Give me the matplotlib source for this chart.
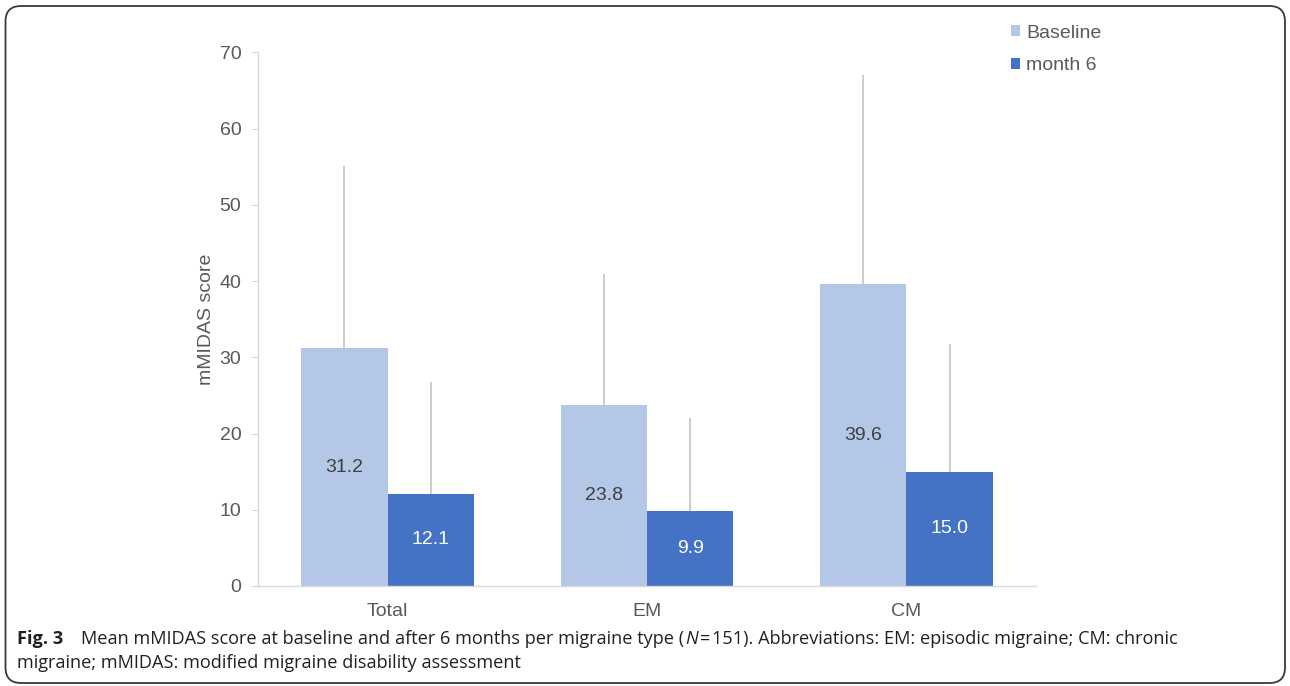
import numpy as np
import matplotlib
matplotlib.use("Agg")
import matplotlib.pyplot as plt
from matplotlib.patches import FancyBboxPatch

# data
categories = ["Total", "EM", "CM"]
baseline = [31.2, 23.8, 39.6]
month6 = [12.1, 9.9, 15.0]
baseline_sd = [23.9, 17.1, 27.4]
month6_sd = [14.7, 12.2, 16.7]
series_names = ["Baseline", "month 6"]

light_blue = "#B4C7E7"
dark_blue = "#4472C4"
grey_txt = "#595959"
axis_grey = "#D9D9D9"

W, H = 1290, 686
fig = plt.figure(figsize=(W / 100, H / 100), dpi=100)
plt.rcParams["font.family"] = ["Liberation Sans", "DejaVu Sans"]

# axes box in pixels: x 258..1036, y 52..586
ax = fig.add_axes([258 / W, 1 - 586 / H, (1036 - 258) / W, (586 - 52.4) / H])

x = np.arange(len(categories))
w = 1 / 3
ax.bar(x - w / 2, baseline, w, color=light_blue, label=series_names[0], zorder=2)
ax.bar(x + w / 2, month6, w, color=dark_blue, label=series_names[1], zorder=2)

# upper error lines only
ax.vlines(x - w / 2, baseline, np.array(baseline) + np.array(baseline_sd),
          color="#BFBFBF", lw=1.1, zorder=1)
ax.vlines(x + w / 2, month6, np.array(month6) + np.array(month6_sd),
          color="#BFBFBF", lw=1.1, zorder=1)

for i in range(len(categories)):
    ax.text(x[i] - w / 2, baseline[i] / 2, f"{baseline[i]:.1f}", ha="center", va="center",
            fontsize=14, color="#404040")
    ax.text(x[i] + w / 2, month6[i] / 2, f"{month6[i]:.1f}", ha="center", va="center",
            fontsize=14, color="white")

ax.set_xlim(-0.5, 2.5)
ax.set_ylim(0, 70)
ax.set_yticks(range(0, 71, 10))
ax.set_xticks(x)
ax.set_xticklabels(categories)
ax.tick_params(axis="y", length=5, color=axis_grey, labelsize=14, labelcolor=grey_txt, pad=7)
ax.tick_params(axis="x", length=0, labelsize=14, labelcolor=grey_txt, pad=12)
for s in ["top", "right"]:
    ax.spines[s].set_visible(False)
for s in ["left", "bottom"]:
    ax.spines[s].set_color(axis_grey)
    ax.spines[s].set_linewidth(1)
ax.set_ylabel("mMIDAS score", fontsize=14, color=grey_txt, labelpad=3)

leg = ax.legend(loc="upper left", bbox_to_anchor=(1001 / W, 1 - 15 / H),
                bbox_transform=fig.transFigure, frameon=False, fontsize=14,
                handlelength=0.5, handleheight=0.5, handletextpad=0.3,
                labelspacing=0.8, borderpad=0)
for t in leg.get_texts():
    t.set_color(grey_txt)

# caption
renderer = fig.canvas.get_renderer()
cap_font = "Open Sans"
cap_size = 13.1
cap_color = "#231F20"


def put_pieces(pieces, x0, y0):
    xp = x0
    for txt, style, gap in pieces:
        t = fig.text(xp / W, 1 - y0 / H, txt, fontsize=cap_size, family=cap_font,
                     color=cap_color, va="baseline", ha="left", **style)
        bb = t.get_window_extent(renderer)
        xp = bb.x1 + gap


put_pieces([("Fig. 3", {"weight": "bold"}, 18),
            ("Mean mMIDAS score at baseline and after 6 months per migraine type (", {}, 0.5),
            ("N", {"style": "italic"}, 2),
            ("=", {}, 2),
            ("151). Abbreviations: EM: episodic migraine; CM: chronic", {}, 0)],
           17, 644)
put_pieces([("migraine; mMIDAS: modified migraine disability assessment", {}, 0)], 17, 668)

# rounded frame
frame = FancyBboxPatch((5.5 / W, 1 - 683 / H), (1285 - 5.5) / W, (683 - 6) / H,
                       boxstyle="round,pad=0,rounding_size=0.012",
                       transform=fig.transFigure, fill=False, edgecolor="#3A3A3A",
                       lw=1.3, mutation_aspect=W / H)
fig.patches.append(frame)

fig.savefig("out.png", dpi=100)
